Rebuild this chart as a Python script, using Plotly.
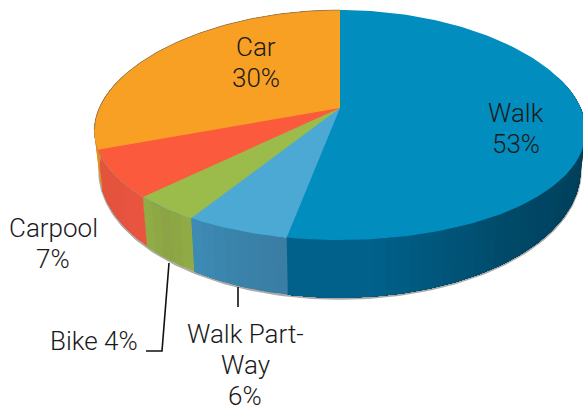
import numpy as np
import plotly.graph_objects as go

categories = ["Walk", "Walk Part-Way", "Bike", "Carpool", "Car"]
values = [53, 6, 4, 7, 30]
label_lines = [["Walk", "53%"], ["Walk Part-", "Way", "6%"], ["Bike 4%"], ["Carpool", "7%"], ["Car", "30%"]]
label_xy = [(516, 113), (245, 334), (94, 341), (53, 228), (256, 47)]
LINE_STEP = 31
top_colors = ["#028DBF", "#4BA9D3", "#9BBB4B", "#FB5A3C", "#F8A024"]
# wall shading stops: (fraction along slice, clockwise, colour)
wall_stops = [
    [(0, "#004C6B"), (0.3, "#003F59"), (0.6, "#004A69"), (0.85, "#01618A"), (1, "#01628C")],
    [(0, "#3B7EA4"), (0.5, "#3A83AA"), (1, "#3E8CB7")],
    [(0, "#91AD47"), (0.5, "#8CA445"), (1, "#93AF46")],
    [(0, "#EA5540"), (0.5, "#E5533F"), (1, "#E2563C")],
    [(0, "#E08F24"), (1, "#E08F24")],
]

A, B, K, CX, CY, WARP = 243, 112.5, 0.148, 340, 108, 6
A2, B2, CY2 = 238, 125, 151


def project(theta, a, b, cy, warp):
    X, Y = np.sin(theta), np.cos(theta)
    den = 1 + K * Y
    return CX + a * X / den, cy - b * Y / den + warp * X ** 2


def top(theta):
    return project(theta, A, B, CY, WARP)


def bottom(theta):
    return project(theta, A2, B2, CY2, 0)


def mix(stops, t):
    fr = [s[0] for s in stops]
    rgb = np.array([[int(s[1][i:i + 2], 16) for i in (1, 3, 5)] for s in stops], float)
    c = [np.interp(t, fr, rgb[:, j]) for j in range(3)]
    return "rgb(%d,%d,%d)" % tuple(c)


fig = go.Figure()


def add_poly(x, y, color):
    fig.add_trace(go.Scatter(x=x, y=y, mode="lines", fill="toself", fillcolor=color,
                             line=dict(color=color, width=0), hoverinfo="skip", showlegend=False))


edges = np.cumsum([0] + values) / sum(values) * 2 * np.pi

# soft shadow under the base
sh = np.linspace(np.radians(75), np.radians(285), 200)
bx, by = bottom(sh)
fig.add_trace(go.Scatter(x=bx, y=by + 1.0, mode="lines", line=dict(color="rgba(90,85,80,0.5)", width=2.2),
                         hoverinfo="skip", showlegend=False))

# side walls, in small shaded segments painted over one another so no seams show
for i in range(len(values)):
    t0, t1 = max(edges[i], np.radians(70)), min(edges[i + 1], np.radians(290))
    if t1 <= t0:
        continue
    n = max(2, int((t1 - t0) / np.radians(2.5)))
    cuts = np.linspace(t0, t1, n + 1)
    for j in range(n):
        th = np.linspace(cuts[j], t1, 3 * (n - j) + 2)
        xt, yt = top(th)
        xb, yb = bottom(th)
        add_poly(np.r_[xt, xb[::-1]], np.r_[yt, yb[::-1]], mix(wall_stops[i], (j + 0.5) / n))

# top surface, each slice painted from its start round to the end of the circle
for i in range(len(values)):
    th = np.linspace(edges[i], edges[-1], 300)
    xr, yr = top(th)
    add_poly(np.r_[CX, xr, CX], np.r_[CY, yr, CY], top_colors[i])

# thin rim at the back
th = np.linspace(np.radians(262), np.radians(360), 100)
xr, yr = top(th)
fig.add_trace(go.Scatter(x=xr, y=yr, mode="lines", line=dict(color="rgba(120,100,70,0.7)", width=0.8),
                         hoverinfo="skip", showlegend=False))

# leader lines
leaders = [([169, 162, 146], [263, 351, 351]), ([238, 238], [287, 307])]
for lx, ly in leaders:
    fig.add_trace(go.Scatter(x=lx, y=ly, mode="lines", line=dict(color="#111111", width=1.6),
                             hoverinfo="skip", showlegend=False))

for lines, (x, y) in zip(label_lines, label_xy):
    for k, line in enumerate(lines):
        fig.add_annotation(x=x, y=y + k * LINE_STEP, text=line, showarrow=False, xanchor="center",
                           yanchor="middle", align="center",
                           font=dict(family="Roboto", size=26, weight=300, color="#1a1a1a"))

fig.update_layout(width=583, height=406, margin=dict(l=0, r=0, t=0, b=0),
                  paper_bgcolor="white", plot_bgcolor="white", showlegend=False,
                  xaxis=dict(range=[0, 583], visible=False, fixedrange=True),
                  yaxis=dict(range=[406, 0], visible=False, fixedrange=True))
fig.write_html("out.html", config=dict(displayModeBar=False),
               post_script="document.body.style.margin='0';document.documentElement.style.overflow='hidden';")
